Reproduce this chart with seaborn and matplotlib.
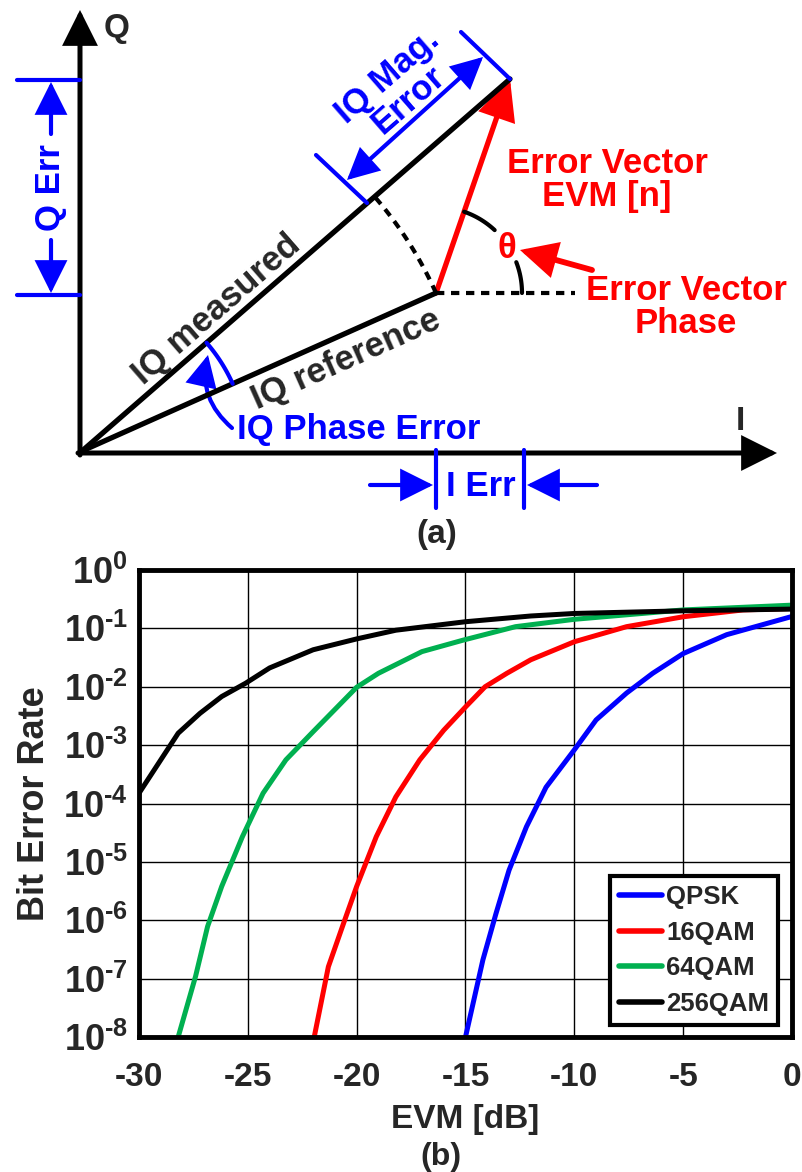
import numpy as np
import pandas as pd
import matplotlib
matplotlib.use('Agg')
import matplotlib.pyplot as plt
import seaborn as sns
from matplotlib.patches import FancyArrowPatch
from matplotlib.ticker import NullLocator

# BER vs EVM curves (b)
qpsk_evm = [-15.0, -14.2, -13.6, -13.0, -12.2, -11.3, -10.0, -9.0, -7.6, -6.4, -5.0, -3.0, 0.0]
qpsk_ber = [1e-8, 2.1e-7, 1.3e-6, 7.2e-6, 4.0e-5, 1.9e-4, 8.3e-4, 2.7e-3, 7.8e-3, 1.7e-2, 3.7e-2, 7.8e-2, 1.6e-1]

qam16_evm = [-21.95, -21.3, -20.6, -20.0, -19.1, -18.2, -17.1, -16.0, -15.0, -14.1, -13.1, -12.0, -10.0, -7.6, -5.0, -2.25, 0.0]
qam16_ber = [1e-8, 1.6e-7, 8.9e-7, 3.8e-6, 2.7e-5, 1.3e-4, 5.6e-4, 1.8e-3, 4.5e-3, 1.0e-2, 1.7e-2, 2.9e-2, 5.9e-2, 0.107, 0.158, 0.207, 0.219]

qam64_evm = [-28.2, -27.4, -26.85, -26.2, -25.25, -24.3, -23.25, -22.0, -20.0, -19.0, -17.0, -15.1, -12.7, -10.0, -5.0, 0.0]
qam64_ber = [1e-8, 1.1e-7, 7.8e-7, 3.8e-6, 2.7e-5, 1.5e-4, 5.6e-4, 1.7e-3, 9.8e-3, 1.7e-2, 4.0e-2, 6.3e-2, 0.107, 0.143, 0.207, 0.25]

qam256_evm = [-30.0, -29.1, -28.2, -27.2, -26.2, -25.1, -24.0, -22.0, -20.0, -18.2, -15.0, -12.0, -10.0, -5.0, 0.0]
qam256_ber = [1.5e-4, 4.9e-4, 1.6e-3, 3.5e-3, 6.8e-3, 1.15e-2, 2.1e-2, 4.3e-2, 6.6e-2, 9.3e-2, 0.13, 0.163, 0.18, 0.20, 0.214]

labels = ['QPSK', '16QAM', '64QAM', '256QAM']
colors = ['#0000FF', '#FF0000', '#00B050', '#000000']

# IQ diagram (a) vector end points, in figure pixels
origin = (82, 451)
ref_tip = (436, 293)
meas_tip = (510, 79)

sns.set_style('white')
plt.rcParams['font.family'] = ['Liberation Sans', 'DejaVu Sans']
plt.rcParams['font.weight'] = 'bold'
plt.rcParams['mathtext.fontset'] = 'custom'
plt.rcParams['mathtext.rm'] = 'Liberation Sans:bold'
plt.rcParams['mathtext.bf'] = 'Liberation Sans:bold'
plt.rcParams['mathtext.it'] = 'Liberation Sans:bold'

fig = plt.figure(figsize=(8.03, 11.72), dpi=100)

# ---------- (a) IQ diagram drawn in pixel coordinates ----------
dia = fig.add_axes([0, 0, 1, 1])
dia.set_xlim(0, 803)
dia.set_ylim(1172, 0)
dia.axis('off')

FS = 25


def arrow(p0, p1, color, lw=3, ms=47, style='-|>', conn='arc3'):
    dia.add_patch(FancyArrowPatch(p0, p1, arrowstyle=style, mutation_scale=ms,
                                  color=color, lw=lw, shrinkA=0, shrinkB=0,
                                  connectionstyle=conn, joinstyle='miter'))


def seg(xs, ys, color, lw=3, **kw):
    dia.plot(xs, ys, color=color, lw=lw, solid_capstyle='round', **kw)


# axes
arrow((80, 455), (80, 10), 'k', lw=3.6, ms=50)
arrow((78, 453), (777, 453), 'k', lw=3.6, ms=50)
dia.text(117, 28, 'Q', fontsize=24, ha='center', va='center')
dia.text(740, 422, 'I', fontsize=24, ha='center', va='center')

# reference / measured vectors
seg([origin[0], ref_tip[0]], [origin[1], ref_tip[1]], 'k', lw=3.8)
seg([origin[0], meas_tip[0]], [origin[1], meas_tip[1]], 'k', lw=3.8)
arrow(ref_tip, meas_tip, 'red', lw=3.8, ms=55, style='-|>,head_length=0.42,head_width=0.2')

# dashed arc (|ref| radius) and dashed horizontal
ang_ref = np.arctan2(origin[1] - ref_tip[1], ref_tip[0] - origin[0])
ang_meas = np.arctan2(origin[1] - meas_tip[1], meas_tip[0] - origin[0])
r_ref = np.hypot(ref_tip[0] - origin[0], ref_tip[1] - origin[1])
a = np.linspace(ang_ref, ang_meas, 60)
dia.plot(origin[0] + r_ref * np.cos(a), origin[1] - r_ref * np.sin(a), color='k', lw=3, dashes=(2, 1.6))
dia.plot([ref_tip[0], 575], [ref_tip[1], ref_tip[1]], color='k', lw=3, dashes=(2, 1.6))

# theta arc
ang_err = np.arctan2(ref_tip[1] - meas_tip[1], meas_tip[0] - ref_tip[0])
for lo, hi in [(0, np.radians(21)), (np.radians(47), ang_err)]:
    a = np.linspace(lo, hi, 30)
    dia.plot(ref_tip[0] + 86 * np.cos(a), ref_tip[1] - 86 * np.sin(a), color='k', lw=3)
dia.text(507, 248, 'θ', color='red', fontsize=FS, ha='center', va='center')
arrow((592, 270), (520, 250), 'red', lw=4.2, ms=50)

dia.text(607, 180, 'Error Vector\nEVM [n]', color='red', fontsize=FS, ha='center', va='center', linespacing=1.0)
dia.text(686, 307, 'Error Vector\nPhase', color='red', fontsize=FS, ha='center', va='center', linespacing=1.0)

# Q error
seg([17, 80], [80, 80], 'b')
seg([17, 80], [295, 295], 'b')
arrow((51, 134), (51, 82), 'b')
arrow((51, 240), (51, 293), 'b')
dia.text(51, 188, 'Q Err', color='b', fontsize=FS, rotation=90, ha='center', va='center')

# IQ magnitude error
seg([367, 316], [203, 155], 'b')
seg([510, 461], [79, 32], 'b')
arrow((347, 180), (483, 57), 'b', ms=45, style='<|-|>')
dia.text(398, 88, 'IQ Mag.\nError', color='b', fontsize=FS, rotation=41, rotation_mode='anchor',
         ha='center', va='center', linespacing=0.95)

# IQ phase error
a = np.linspace(ang_ref, ang_meas, 40)
dia.plot(origin[0] + 165 * np.cos(a), origin[1] - 165 * np.sin(a), color='b', lw=3)
arrow((232, 428), (208, 355), 'b', ms=45, conn='arc3,rad=-0.3')
dia.text(237, 430, 'IQ Phase Error', color='b', fontsize=FS, ha='left', va='center')

dia.text(217, 310, 'IQ measured', fontsize=FS, rotation=41, rotation_mode='anchor', ha='center', va='center')
dia.text(346, 360, 'IQ reference', fontsize=FS, rotation=24, rotation_mode='anchor', ha='center', va='center')

# I error
seg([436, 436], [450, 508], 'b')
seg([524, 524], [450, 508], 'b')
arrow((370, 485), (433, 485), 'b')
arrow((597, 485), (527, 485), 'b')
dia.text(481, 487, 'I Err', color='b', fontsize=FS, ha='center', va='center')

dia.text(437, 535, '(a)', fontsize=24, ha='center', va='center')
dia.text(441, 1157, '(b)', fontsize=23, ha='center', va='center')

# ---------- (b) BER vs EVM ----------
frames = []
for name, xs, ys in zip(labels, [qpsk_evm, qam16_evm, qam64_evm, qam256_evm],
                        [qpsk_ber, qam16_ber, qam64_ber, qam256_ber]):
    frames.append(pd.DataFrame({'EVM': xs, 'BER': ys, 'Modulation': name}))
df = pd.concat(frames, ignore_index=True)

ax = fig.add_axes([139 / 803, 135 / 1172, 653 / 803, 467 / 1172])
sns.lineplot(data=df, x='EVM', y='BER', hue='Modulation', hue_order=labels,
             palette=colors, estimator=None, lw=3.6, ax=ax)
ax.set_yscale('log')
ax.set_xlim(-30, 0)
ax.set_ylim(1e-8, 1)
ax.set_xticks(range(-30, 1, 5))
ax.set_xticklabels([str(v) for v in range(-30, 1, 5)])
exps = list(range(-8, 1))
ax.set_yticks([10.0 ** k for k in exps])
ytl = []
for k in exps:
    if k < 0:
        ytl.append(r'$\mathbf{10^{\text{-}%d}}$' % (-k))
    else:
        ytl.append(r'$\mathbf{10^{%d}}$' % k)
ax.set_yticklabels(ytl)
ax.yaxis.set_minor_locator(NullLocator())
ax.grid(True, color='k', lw=1.0)
for s in ax.spines.values():
    s.set_linewidth(3.5)
    s.set_color('k')
ax.tick_params(axis='x', length=0, labelsize=24, pad=18)
ax.tick_params(axis='y', length=0, labelsize=26, pad=8)
ax.set_xlabel('EVM [dB]', fontsize=24, fontweight='bold', labelpad=8)
ax.set_ylabel('Bit Error Rate', fontsize=26, fontweight='bold', labelpad=8)

leg = ax.legend(loc='lower right', bbox_to_anchor=(0.979, 0.026), borderaxespad=0,
                prop=dict(family='Liberation Sans', weight='bold', size=18.5),
                handlelength=1.7, handletextpad=0.15, labelspacing=0.45,
                borderpad=0.35, fancybox=False, framealpha=1, edgecolor='k')
leg.get_frame().set_linewidth(3)
for h in leg.get_lines():
    h.set_linewidth(4)

fig.savefig('out.png', dpi=100)
